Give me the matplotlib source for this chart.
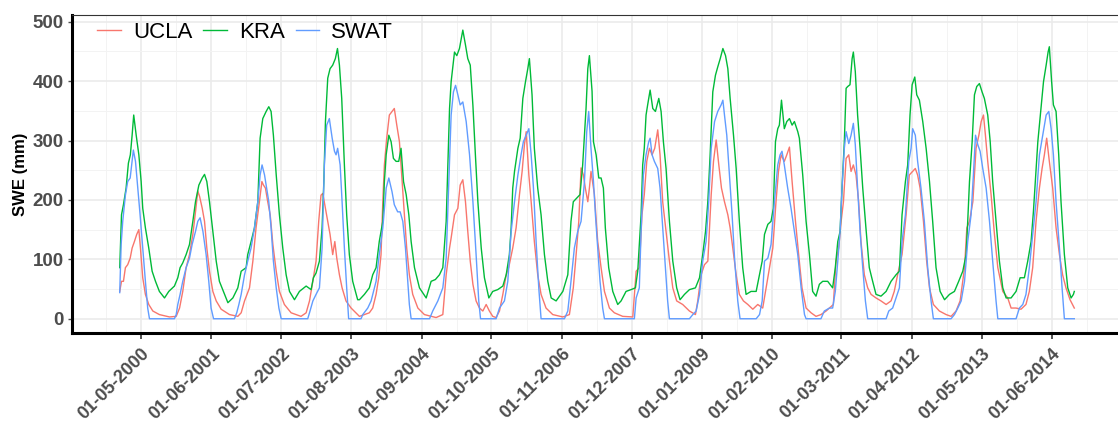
import pandas as pd
import matplotlib
matplotlib.use("Agg")
import matplotlib.pyplot as plt

# decimal year / SWE (mm)
kra_t = [2000.000, 2000.026, 2000.057, 2000.098, 2000.134, 2000.165, 2000.191, 2000.216, 2000.253, 2000.294,
         2000.330, 2000.356, 2000.397, 2000.448, 2000.500, 2000.552, 2000.613, 2000.691, 2000.758, 2000.845,
         2000.897, 2000.933, 2000.974, 2001.026, 2001.077, 2001.129, 2001.170, 2001.222, 2001.273, 2001.309,
         2001.345, 2001.387, 2001.438, 2001.490, 2001.541, 2001.619, 2001.670, 2001.747, 2001.825, 2001.876,
         2001.954, 2001.979, 2002.031, 2002.082, 2002.134, 2002.170, 2002.211, 2002.263, 2002.304, 2002.340,
         2002.376, 2002.418, 2002.469, 2002.521, 2002.572, 2002.624, 2002.701, 2002.778, 2002.881, 2002.959,
         2002.995, 2003.036, 2003.088, 2003.129, 2003.155, 2003.180, 2003.216, 2003.253, 2003.294, 2003.335,
         2003.366, 2003.397, 2003.433, 2003.474, 2003.510, 2003.552, 2003.603, 2003.680, 2003.706, 2003.784,
         2003.861, 2003.912, 2003.964, 2004.015, 2004.067, 2004.093, 2004.119, 2004.160, 2004.196, 2004.232,
         2004.273, 2004.314, 2004.351, 2004.387, 2004.428, 2004.469, 2004.505, 2004.557, 2004.634, 2004.737,
         2004.814, 2004.881, 2004.943, 2004.995, 2005.046, 2005.098, 2005.124, 2005.175, 2005.211, 2005.253,
         2005.304, 2005.345, 2005.381, 2005.418, 2005.459, 2005.500, 2005.536, 2005.588, 2005.639, 2005.706,
         2005.768, 2005.845, 2005.923, 2005.974, 2006.026, 2006.052, 2006.077, 2006.103, 2006.155, 2006.191,
         2006.232, 2006.273, 2006.309, 2006.335, 2006.376, 2006.412, 2006.464, 2006.515, 2006.567, 2006.619,
         2006.670, 2006.747, 2006.851, 2006.928, 2006.979, 2007.015, 2007.067, 2007.119, 2007.160, 2007.211,
         2007.237, 2007.263, 2007.304, 2007.325, 2007.366, 2007.407, 2007.443, 2007.479, 2007.510, 2007.562,
         2007.624, 2007.701, 2007.753, 2007.830, 2007.907, 2007.974, 2008.010, 2008.062, 2008.088, 2008.113,
         2008.139, 2008.165, 2008.201, 2008.242, 2008.284, 2008.335, 2008.371, 2008.407, 2008.448, 2008.500,
         2008.552, 2008.613, 2008.665, 2008.732, 2008.809, 2008.902, 2008.964, 2009.015, 2009.057, 2009.093,
         2009.129, 2009.170, 2009.211, 2009.247, 2009.284, 2009.325, 2009.366, 2009.402, 2009.438, 2009.490,
         2009.531, 2009.582, 2009.634, 2009.686, 2009.763, 2009.840, 2009.892, 2009.933, 2009.969, 2010.021,
         2010.072, 2010.108, 2010.139, 2010.175, 2010.201, 2010.232, 2010.278, 2010.314, 2010.356, 2010.397,
         2010.433, 2010.485, 2010.510, 2010.562, 2010.613, 2010.665, 2010.716, 2010.768, 2010.820, 2010.871,
         2010.948, 2011.026, 2011.067, 2011.103, 2011.139, 2011.170, 2011.206, 2011.232, 2011.258, 2011.294,
         2011.325, 2011.345, 2011.376, 2011.412, 2011.448, 2011.490, 2011.541, 2011.593, 2011.644, 2011.696,
         2011.773, 2011.851, 2011.928, 2012.005, 2012.057, 2012.098, 2012.149, 2012.186, 2012.222, 2012.253,
         2012.294, 2012.325, 2012.366, 2012.418, 2012.469, 2012.521, 2012.572, 2012.624, 2012.686, 2012.753,
         2012.830, 2012.907, 2012.974, 2013.036, 2013.088, 2013.113, 2013.139, 2013.180, 2013.216, 2013.253,
         2013.294, 2013.335, 2013.371, 2013.423, 2013.459, 2013.500, 2013.552, 2013.603, 2013.655, 2013.706,
         2013.784, 2013.861, 2013.923, 2013.990, 2014.041, 2014.093, 2014.129, 2014.160, 2014.196, 2014.247,
         2014.284, 2014.325, 2014.356, 2014.376, 2014.412, 2014.438, 2014.479, 2014.521, 2014.557, 2014.608,
         2014.660, 2014.711, 2014.747, 2014.763]
kra_swe = [86, 175, 192, 220, 262, 276, 309, 343, 309, 276,
           231, 186, 153, 119, 80, 63, 46, 35, 46, 55,
           69, 86, 94, 108, 125, 164, 197, 225, 237, 243,
           231, 197, 147, 97, 63, 41, 27, 35, 52, 80,
           86, 108, 130, 153, 197, 304, 337, 349, 357, 349,
           309, 242, 175, 119, 74, 46, 32, 46, 55, 49,
           69, 77, 97, 153, 231, 332, 405, 421, 427, 438,
           455, 427, 371, 259, 175, 108, 63, 32, 32, 41,
           52, 74, 86, 130, 164, 231, 276, 309, 298, 270,
           265, 265, 287, 231, 209, 175, 130, 86, 52, 35,
           63, 66, 74, 86, 164, 354, 399, 449, 443, 455,
           486, 461, 438, 427, 359, 276, 197, 119, 69, 35,
           46, 49, 55, 74, 108, 153, 220, 248, 287, 304,
           371, 399, 421, 438, 377, 287, 220, 175, 108, 63,
           35, 30, 46, 74, 164, 197, 203, 209, 259, 354,
           421, 443, 383, 298, 276, 237, 237, 220, 153, 86,
           46, 24, 30, 46, 49, 52, 80, 175, 259, 287,
           343, 360, 385, 354, 349, 371, 349, 298, 253, 164,
           97, 52, 32, 41, 49, 52, 69, 108, 147, 197,
           276, 382, 410, 424, 438, 455, 443, 421, 371, 309,
           253, 164, 86, 41, 46, 46, 74, 97, 142, 159,
           164, 186, 298, 320, 326, 368, 320, 332, 337, 326,
           332, 315, 304, 242, 164, 108, 46, 38, 58, 63,
           63, 52, 86, 130, 147, 220, 298, 388, 391, 394,
           438, 449, 416, 343, 287, 220, 153, 86, 63, 41,
           38, 46, 63, 74, 80, 175, 231, 259, 343, 394,
           407, 377, 368, 332, 287, 231, 164, 86, 46, 32,
           41, 46, 63, 80, 108, 164, 231, 298, 377, 391,
           396, 382, 371, 343, 298, 231, 164, 97, 52, 35,
           35, 46, 69, 69, 97, 130, 180, 231, 298, 354,
           399, 427, 449, 458, 399, 360, 349, 276, 197, 108,
           52, 35, 41, 46]

swat_t = [2000.000, 2000.021, 2000.046, 2000.088, 2000.124, 2000.160, 2000.191, 2000.211, 2000.242, 2000.278,
          2000.314, 2000.356, 2000.397, 2000.433, 2000.459, 2000.845, 2000.871, 2000.897, 2000.933, 2000.974,
          2001.026, 2001.077, 2001.119, 2001.170, 2001.206, 2001.242, 2001.284, 2001.335, 2001.376, 2001.412,
          2001.448, 2001.773, 2001.809, 2001.840, 2001.876, 2001.928, 2001.979, 2002.031, 2002.082, 2002.134,
          2002.170, 2002.201, 2002.237, 2002.263, 2002.304, 2002.340, 2002.376, 2002.418, 2002.459, 2002.495,
          2002.907, 2002.933, 2002.985, 2003.036, 2003.088, 2003.129, 2003.165, 2003.201, 2003.242, 2003.284,
          2003.320, 2003.345, 2003.371, 2003.407, 2003.438, 2003.474, 2003.510, 2003.541, 2003.732, 2003.758,
          2003.835, 2003.887, 2003.964, 2004.015, 2004.067, 2004.119, 2004.160, 2004.211, 2004.247, 2004.299,
          2004.335, 2004.376, 2004.418, 2004.454, 2004.479, 2004.505, 2004.789, 2004.840, 2004.918, 2004.995,
          2005.046, 2005.088, 2005.124, 2005.160, 2005.191, 2005.227, 2005.263, 2005.304, 2005.356, 2005.407,
          2005.459, 2005.510, 2005.552, 2005.577, 2005.820, 2005.871, 2005.948, 2006.000, 2006.052, 2006.103,
          2006.155, 2006.206, 2006.242, 2006.284, 2006.325, 2006.361, 2006.397, 2006.438, 2006.479, 2006.515,
          2006.876, 2006.928, 2006.979, 2007.031, 2007.082, 2007.134, 2007.186, 2007.222, 2007.253, 2007.289,
          2007.325, 2007.356, 2007.392, 2007.428, 2007.469, 2007.495, 2007.959, 2007.985, 2008.036, 2008.062,
          2008.098, 2008.139, 2008.180, 2008.201, 2008.232, 2008.268, 2008.320, 2008.356, 2008.397, 2008.438,
          2008.474, 2008.500, 2008.809, 2008.861, 2008.912, 2008.964, 2009.015, 2009.067, 2009.108, 2009.144,
          2009.196, 2009.247, 2009.299, 2009.325, 2009.351, 2009.387, 2009.428, 2009.469, 2009.510, 2009.557,
          2009.593, 2009.840, 2009.892, 2009.933, 2009.969, 2010.021, 2010.072, 2010.124, 2010.175, 2010.211,
          2010.242, 2010.278, 2010.330, 2010.381, 2010.433, 2010.485, 2010.536, 2010.588, 2010.613, 2010.845,
          2010.897, 2010.974, 2011.026, 2011.067, 2011.103, 2011.139, 2011.170, 2011.206, 2011.232, 2011.273,
          2011.309, 2011.345, 2011.376, 2011.412, 2011.448, 2011.490, 2011.531, 2011.567, 2011.851, 2011.892,
          2011.954, 2012.005, 2012.057, 2012.098, 2012.149, 2012.201, 2012.237, 2012.263, 2012.304, 2012.340,
          2012.392, 2012.443, 2012.495, 2012.546, 2012.582, 2012.856, 2012.907, 2012.959, 2013.010, 2013.062,
          2013.113, 2013.165, 2013.201, 2013.232, 2013.268, 2013.304, 2013.345, 2013.397, 2013.448, 2013.500,
          2013.552, 2013.577, 2013.861, 2013.912, 2013.964, 2014.015, 2014.067, 2014.119, 2014.170, 2014.222,
          2014.273, 2014.325, 2014.366, 2014.402, 2014.438, 2014.479, 2014.531, 2014.572, 2014.608, 2014.763]
swat_swe = [44, 125, 164, 208, 231, 237, 265, 284, 265, 220,
            175, 119, 63, 18, 0, 0, 7, 24, 41, 63,
            86, 102, 125, 147, 164, 170, 147, 108, 63, 18,
            0, 0, 10, 24, 41, 74, 97, 119, 153, 197,
            242, 259, 242, 225, 197, 153, 97, 52, 18, 0,
            0, 10, 30, 41, 52, 119, 259, 326, 337, 304,
            282, 276, 287, 259, 197, 119, 52, 0, 0, 7,
            18, 30, 63, 108, 153, 220, 237, 214, 192, 180,
            180, 164, 119, 63, 24, 0, 0, 13, 30, 52,
            102, 231, 343, 382, 393, 377, 360, 365, 332, 276,
            197, 108, 30, 0, 0, 18, 30, 63, 147, 197,
            242, 276, 298, 309, 320, 276, 220, 130, 52, 0,
            0, 13, 63, 119, 147, 164, 231, 315, 349, 287,
            231, 175, 119, 63, 18, 0, 0, 35, 52, 147,
            242, 276, 298, 304, 276, 265, 253, 220, 153, 86,
            30, 0, 0, 7, 13, 41, 97, 130, 197, 287,
            332, 349, 360, 368, 343, 309, 242, 175, 97, 30,
            0, 0, 7, 30, 97, 102, 125, 197, 259, 276,
            282, 259, 220, 186, 147, 108, 52, 7, 0, 0,
            13, 18, 18, 46, 97, 147, 220, 287, 315, 295,
            309, 329, 293, 220, 147, 86, 30, 0, 0, 13,
            18, 35, 52, 130, 175, 265, 287, 320, 309, 265,
            220, 164, 86, 30, 0, 0, 7, 18, 30, 63,
            130, 175, 242, 309, 293, 282, 253, 220, 164, 97,
            30, 0, 0, 18, 24, 41, 86, 142, 197, 276,
            309, 343, 349, 320, 276, 197, 119, 52, 0, 0]

ucla_t = [2000.000, 2000.026, 2000.057, 2000.088, 2000.124, 2000.160, 2000.191, 2000.227, 2000.263, 2000.294,
          2000.320, 2000.356, 2000.397, 2000.448, 2000.510, 2000.613, 2000.768, 2000.871, 2000.923, 2000.974,
          2001.026, 2001.077, 2001.129, 2001.170, 2001.206, 2001.232, 2001.273, 2001.309, 2001.345, 2001.387,
          2001.438, 2001.490, 2001.567, 2001.696, 2001.825, 2001.876, 2001.928, 2002.005, 2002.057, 2002.108,
          2002.160, 2002.196, 2002.222, 2002.253, 2002.289, 2002.325, 2002.366, 2002.418, 2002.469, 2002.546,
          2002.649, 2002.804, 2002.881, 2002.933, 2002.995, 2003.036, 2003.077, 2003.113, 2003.139, 2003.180,
          2003.216, 2003.253, 2003.294, 2003.325, 2003.356, 2003.397, 2003.438, 2003.500, 2003.577, 2003.680,
          2003.706, 2003.861, 2003.912, 2003.964, 2004.005, 2004.041, 2004.067, 2004.093, 2004.129, 2004.170,
          2004.211, 2004.247, 2004.284, 2004.325, 2004.366, 2004.402, 2004.438, 2004.479, 2004.531, 2004.608,
          2004.711, 2004.892, 2004.995, 2005.046, 2005.098, 2005.124, 2005.175, 2005.227, 2005.263, 2005.304,
          2005.345, 2005.381, 2005.418, 2005.459, 2005.510, 2005.562, 2005.613, 2005.665, 2005.716, 2005.768,
          2005.820, 2005.871, 2005.923, 2005.974, 2006.015, 2006.077, 2006.129, 2006.180, 2006.222, 2006.258,
          2006.284, 2006.325, 2006.361, 2006.412, 2006.464, 2006.515, 2006.593, 2006.696, 2006.851, 2006.954,
          2007.015, 2007.057, 2007.098, 2007.134, 2007.170, 2007.201, 2007.237, 2007.263, 2007.289, 2007.340,
          2007.392, 2007.443, 2007.495, 2007.572, 2007.649, 2007.778, 2007.933, 2007.985, 2008.036, 2008.077,
          2008.113, 2008.149, 2008.191, 2008.232, 2008.273, 2008.320, 2008.356, 2008.397, 2008.448, 2008.500,
          2008.552, 2008.613, 2008.706, 2008.809, 2008.902, 2008.938, 2008.990, 2009.041, 2009.093, 2009.144,
          2009.180, 2009.222, 2009.263, 2009.304, 2009.351, 2009.402, 2009.438, 2009.479, 2009.531, 2009.582,
          2009.644, 2009.711, 2009.789, 2009.866, 2009.943, 2009.995, 2010.046, 2010.098, 2010.149, 2010.186,
          2010.227, 2010.278, 2010.314, 2010.356, 2010.397, 2010.448, 2010.500, 2010.552, 2010.613, 2010.691,
          2010.768, 2010.845, 2010.923, 2010.974, 2011.036, 2011.077, 2011.119, 2011.155, 2011.191, 2011.232,
          2011.273, 2011.309, 2011.345, 2011.387, 2011.428, 2011.464, 2011.515, 2011.567, 2011.619, 2011.696,
          2011.773, 2011.851, 2011.928, 2011.979, 2012.031, 2012.098, 2012.160, 2012.211, 2012.263, 2012.304,
          2012.340, 2012.376, 2012.428, 2012.479, 2012.521, 2012.582, 2012.675, 2012.778, 2012.856, 2012.933,
          2012.995, 2013.062, 2013.098, 2013.139, 2013.191, 2013.242, 2013.284, 2013.320, 2013.356, 2013.387,
          2013.423, 2013.474, 2013.526, 2013.577, 2013.655, 2013.732, 2013.784, 2013.861, 2013.938, 2014.015,
          2014.067, 2014.119, 2014.170, 2014.222, 2014.263, 2014.299, 2014.335, 2014.376, 2014.428, 2014.479,
          2014.531, 2014.582, 2014.634, 2014.696, 2014.763]
ucla_swe = [46, 63, 63, 86, 91, 102, 119, 130, 142, 150,
            119, 69, 41, 24, 13, 7, 3, 4, 18, 46,
            86, 108, 142, 180, 215, 206, 186, 164, 119, 80,
            46, 30, 16, 7, 4, 10, 30, 52, 97, 153,
            197, 231, 225, 220, 197, 175, 125, 80, 46, 24,
            10, 4, 10, 30, 69, 97, 164, 208, 211, 186,
            164, 142, 108, 130, 102, 74, 52, 30, 18, 7,
            4, 10, 18, 41, 69, 108, 197, 259, 304, 343,
            349, 354, 326, 298, 231, 175, 119, 74, 41, 18,
            7, 2, 7, 74, 119, 136, 175, 186, 225, 234,
            197, 147, 97, 58, 30, 18, 13, 24, 13, 4,
            2, 13, 41, 74, 86, 119, 153, 209, 248, 293,
            315, 242, 197, 130, 74, 41, 18, 7, 3, 7,
            52, 108, 164, 254, 242, 220, 197, 220, 248, 210,
            130, 86, 46, 18, 10, 4, 3, 80, 86, 175,
            209, 265, 287, 276, 287, 318, 276, 197, 147, 97,
            52, 30, 24, 13, 7, 30, 74, 91, 97, 209,
            265, 301, 259, 220, 197, 175, 153, 119, 74, 41,
            30, 24, 16, 24, 18, 52, 86, 119, 197, 248,
            276, 265, 276, 289, 231, 164, 108, 52, 18, 10,
            4, 7, 13, 18, 24, 97, 119, 164, 197, 270,
            276, 248, 259, 242, 197, 130, 74, 52, 41, 35,
            30, 24, 30, 46, 74, 108, 175, 242, 248, 253,
            242, 220, 164, 97, 52, 24, 13, 7, 4, 13,
            30, 86, 153, 164, 197, 287, 309, 332, 343, 309,
            265, 209, 142, 86, 46, 35, 18, 18, 16, 24,
            46, 86, 164, 220, 253, 276, 304, 265, 220, 153,
            108, 74, 52, 32, 18]

tick_labels = ["01-05-2000", "01-06-2001", "01-07-2002", "01-08-2003", "01-09-2004", "01-10-2005",
               "01-11-2006", "01-12-2007", "01-01-2009", "01-02-2010", "01-03-2011", "01-04-2012",
               "01-05-2013", "01-06-2014"]


def to_dates(years):
    out = []
    for t in years:
        y = int(t)
        start = pd.Timestamp(year=y, month=1, day=1)
        n = 366 if pd.Timestamp(year=y, month=12, day=31).dayofyear == 366 else 365
        out.append(start + pd.Timedelta(days=round((t - y) * n)))
    return out


plt.rcParams['font.family'] = ['Liberation Sans', 'DejaVu Sans']

fig = plt.figure(figsize=(11.18, 4.25), dpi=100)
ax = fig.add_axes([0.0644, 0.2165, 0.9392, 0.749])

colors = {"UCLA": "#F8766D", "KRA": "#00BA38", "SWAT": "#619CFF"}
for name, t, v in [("UCLA", ucla_t, ucla_swe), ("KRA", kra_t, kra_swe), ("SWAT", swat_t, swat_swe)]:
    ax.plot(to_dates(t), v, color=colors[name], lw=1.0, label=name)

# ggplot-style 5% expansion
all_t = kra_t + swat_t + ucla_t
t0, t1 = to_dates([min(all_t)])[0], to_dates([max(all_t)])[0]
pad = (t1 - t0) * 0.05
ax.set_xlim(t0 - pad, t1 + pad)
ax.set_ylim(-24, 512)

majors = [pd.to_datetime(s, format="%d-%m-%Y") for s in tick_labels]
step = majors[1] - majors[0]
minors = [majors[0] - step / 2] + [a + (b - a) / 2 for a, b in zip(majors[:-1], majors[1:])] + [majors[-1] + step / 2]
ax.set_xticks(majors)
ax.set_xticklabels(tick_labels)
ax.set_xticks(minors, minor=True)
ax.set_yticks([0, 100, 200, 300, 400, 500])
ax.set_yticks([50, 150, 250, 350, 450], minor=True)

ax.grid(True, which="major", color="#EBEBEB", lw=1.2)
ax.grid(True, which="minor", color="#F3F3F3", lw=0.7)
ax.set_axisbelow(True)

for lab in ax.get_xticklabels():
    lab.set_rotation(45)
    lab.set_ha("right")
    lab.set_va("top")
    lab.set_rotation_mode("anchor")
ax.tick_params(axis="x", which="major", length=4, width=1.2, color="#333333", labelsize=13,
               labelcolor="#4D4D4D", pad=5)
ax.tick_params(axis="y", which="major", length=3, width=1.0, color="#4D4D4D", labelsize=13.5,
               labelcolor="#4D4D4D", pad=3)
ax.tick_params(which="minor", length=0)
for lab in ax.get_xticklabels() + ax.get_yticklabels():
    lab.set_fontweight("bold")

ax.set_ylabel("SWE (mm)", fontsize=12, fontweight="bold", labelpad=3)

for s in ["left", "bottom"]:
    ax.spines[s].set_color("black")
    ax.spines[s].set_linewidth(2.2)
for s in ["top", "right"]:
    ax.spines[s].set_color("#333333")
    ax.spines[s].set_linewidth(0.8)

ax.legend(loc="upper left", bbox_to_anchor=(0.024, 0.978), ncol=3, frameon=False, fontsize=16,
          handlelength=1.05, handletextpad=0.55, columnspacing=0.5, borderpad=0, borderaxespad=0)

fig.savefig("out.png", dpi=100)
